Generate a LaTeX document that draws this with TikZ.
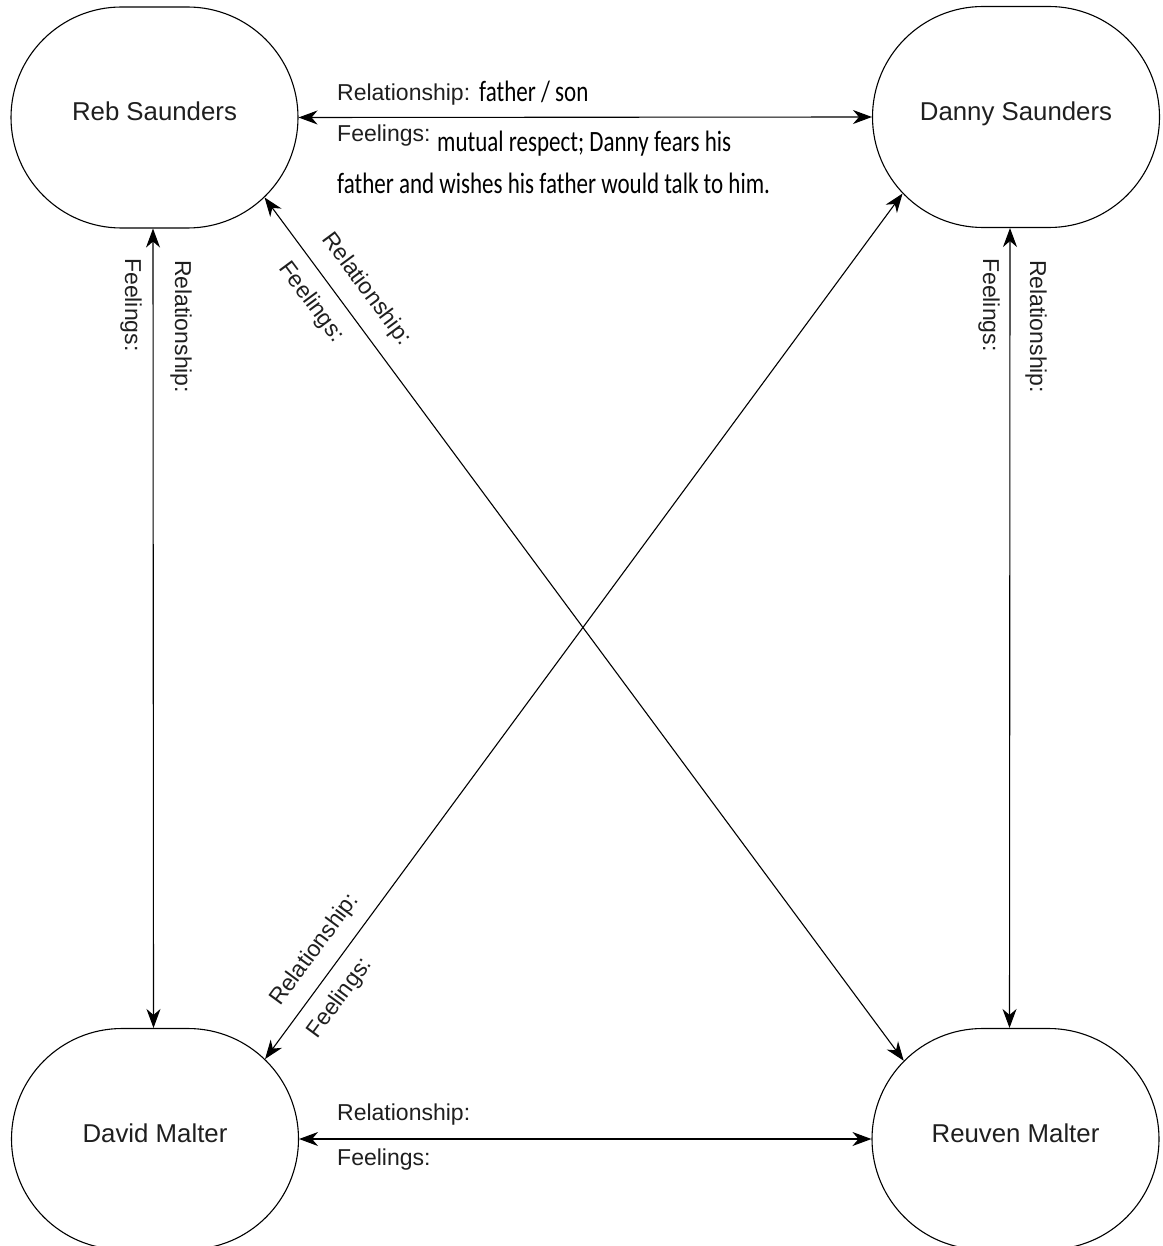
\documentclass[tikz,border=0pt]{standalone}
\usepackage{fontspec}
\setmainfont{Liberation Sans}
\newfontfamily\handfont[FakeStretch=0.78]{Carlito}
\usetikzlibrary{shapes.misc,arrows.meta}
\begin{document}
\begin{tikzpicture}[x=1pt,y=1pt,
  person/.style={draw, line width=1.1pt, rounded rectangle, minimum width=287pt, minimum height=221pt, inner sep=0pt, text height=18pt, text depth=11pt, text=black!88, font=\fontsize{25.8}{30}\selectfont},
  lbl/.style={inner sep=0pt, text=black!88, font=\fontsize{23}{27}\selectfont, anchor=base west},
  hand/.style={inner sep=0pt, font=\handfont\fontsize{29.5}{34}\selectfont, anchor=base west},
  tip/.tip={Stealth[length=19pt,width=14pt,inset=6pt]},
  link/.style={line width=1.1pt, tip-tip}]
\useasboundingbox (0,0) rectangle (1162,-1246);
\fill[white] (0,0) rectangle (1162,-1246);
% people
\node[person] (reb) at (154.5,-117.5) {Reb Saunders};
\node[person] (danny) at (1016,-117) {Danny Saunders};
\node[person] (david) at (155,-1139) {David Malter};
\node[person] (reuven) at (1015.5,-1139) {Reuven Malter};
% connectors
\draw[link] (reb.east) -- (danny.west);
\draw[link] (david.east) -- (reuven.west);
\draw[link] ([xshift=-1.5pt]reb.south) -- ([xshift=-1.5pt]david.north);
\draw[link] ([xshift=-6pt]danny.south) -- ([xshift=-6pt]reuven.north);
\draw[link] (reb.-36) -- (reuven.145);
\draw[link] (danny.-146) -- (david.36);
% labels top
\node[lbl] (rel1) at (337,-100.7) {Relationship:};
\node[hand] (relv1) at (479,-101.7) {father / son};
\node[lbl] (feel1) at (337,-141.7) {Feelings:};
\node[hand] (feelv1) at (437,-151.7) {mutual respect; Danny fears his};
\node[hand] (feelv2) at (337,-193.3) {father and wishes his father would talk to him.};
% labels bottom
\node[lbl] (rel2) at (337,-1120.7) {Relationship:};
\node[lbl] (feel2) at (337,-1165) {Feelings:};
% vertical labels
\node[lbl, rotate=-90] (feel3) at (125,-258) {Feelings:};
\node[lbl, rotate=-90] (rel3) at (175,-260) {Relationship:};
\node[lbl, rotate=-90] (feel4) at (983,-258) {Feelings:};
\node[lbl, rotate=-90] (rel4) at (1030,-260) {Relationship:};
% diagonal labels
\node[lbl, rotate=-53.5] (rel5) at (321.7,-239.4) {Relationship:};
\node[lbl, rotate=-53.5] (feel5) at (278.4,-268.3) {Feelings:};
\node[lbl, rotate=53.6] (rel6) at (280.2,-1007.1) {Relationship:};
\node[lbl, rotate=53.6] (feel6) at (317.3,-1039.4) {Feelings:};
\end{tikzpicture}
\end{document}
